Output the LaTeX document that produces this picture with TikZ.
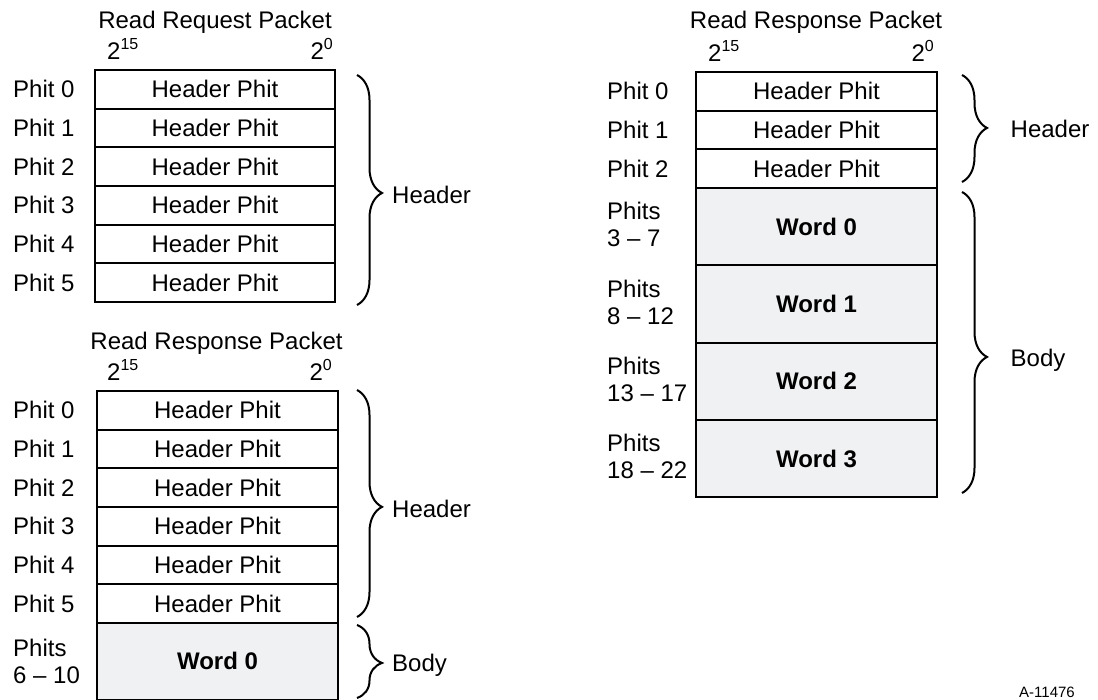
\documentclass[tikz,border=0pt]{standalone}
\usepackage{fontspec}
\setmainfont{Liberation Sans}
\usetikzlibrary{decorations.pathreplacing}
\definecolor{wordfill}{RGB}{240,241,243}
\newcommand\sz{\fontsize{24}{27}\selectfont}
\newcommand\pw[1]{2\raisebox{10pt}{\fontsize{16}{16}\selectfont #1}}
\begin{document}
\begin{tikzpicture}[x=1pt,y=-1pt,
 cell/.style={draw, line width=2pt, inner sep=0pt, text height=17pt, text depth=0pt, font=\sz},
 hcell/.style={cell, minimum height=38.667pt},
 wcell/.style={cell, fill=wordfill, font=\sz\bfseries},
 lbl/.style={anchor=west, inner sep=0pt, text height=17pt, text depth=0pt, font=\sz},
 lbltwo/.style={anchor=west, inner sep=0pt, align=left, font=\sz},
 bits/.style={inner sep=0pt, font=\sz},
 ttl/.style={inner sep=0pt, text height=17pt, text depth=0pt, font=\sz},
 brc/.style={decorate, decoration={brace, amplitude=25pt, aspect=#1}, line width=2pt},
 brc/.default=0.5
]
\useasboundingbox (0,0) rectangle (1098,700);

% ---------- Read Request Packet (top left) ----------
\node[ttl] (t1) at (215,20.5) {Read Request Packet};
\node[bits, anchor=base west] (a15) at (107,60) {\pw{15}};
\node[bits, anchor=base east] (a0) at (333,60) {\pw{0}};
\foreach \i in {0,...,5} {
  \pgfmathsetmacro\cy{70+19.333+38.667*\i}
  \node[hcell, minimum width=240pt] (ra\i) at (215,\cy) {Header Phit};
  \node[lbl] (la\i) at (13,\cy) {Phit \i};
}
\coordinate (ab1) at (357,75);
\coordinate (ab2) at (357,305);
\draw[brc=0.513] (ab1) -- (ab2);
\node[lbl] (ah) at (392,195) {Header};

% ---------- Read Response Packet (bottom left) ----------
\node[ttl] (t2) at (216.5,341.5) {Read Response Packet};
\node[bits, anchor=base west] (b15) at (107,381) {\pw{15}};
\node[bits, anchor=base east] (b0) at (332,381) {\pw{0}};
\foreach \i in {0,...,5} {
  \pgfmathsetmacro\cy{391+19.333+38.667*\i}
  \node[hcell, minimum width=241pt] (rb\i) at (217.5,\cy) {Header Phit};
  \node[lbl] (lb\i) at (13,\cy) {Phit \i};
}
\node[wcell, minimum width=241pt, minimum height=76.5pt] (wb0) at (217.5,661.25) {Word 0};
\node[lbltwo] (lbw0) at (13,661.25) {Phits\\6 \textendash{} 10};
\coordinate (bb1) at (357,390);
\coordinate (bb2) at (357,617);
\draw[brc=0.515] (bb1) -- (bb2);
\node[lbl] (bh) at (392,508.5) {Header};
\coordinate (bb3) at (357,625);
\coordinate (bb4) at (357,698);
\draw[brc=0.52] (bb3) -- (bb4);
\node[lbl] (bbody) at (392,663) {Body};

% ---------- Read Response Packet (right) ----------
\node[ttl] (t3) at (816,20.5) {Read Response Packet};
\node[bits, anchor=base west] (c15) at (708,62) {\pw{15}};
\node[bits, anchor=base east] (c0) at (934,62) {\pw{0}};
\foreach \i in {0,...,2} {
  \pgfmathsetmacro\cy{72+19.333+38.667*\i}
  \node[hcell, minimum width=241pt] (rc\i) at (816.5,\cy) {Header Phit};
  \node[lbl] (lc\i) at (607,\cy) {Phit \i};
}
\foreach \i/\lo/\hi in {0/3/7,1/8/12,2/13/17,3/18/22} {
  \pgfmathsetmacro\cy{188+38.667+77.333*\i}
  \node[wcell, minimum width=241pt, minimum height=77.333pt] (wc\i) at (816.5,\cy) {Word \i};
  \node[lbltwo] (lcw\i) at (607,\cy-2) {Phits\\\lo{} \textendash{} \hi};
}
\coordinate (cb1) at (962,75);
\coordinate (cb2) at (962,182);
\draw[brc=0.495] (cb1) -- (cb2);
\node[lbl] (ch) at (1010.5,129) {Header};
\coordinate (cb3) at (962,192);
\coordinate (cb4) at (962,493);
\draw[brc=0.548] (cb3) -- (cb4);
\node[lbl] (cbody) at (1010.5,358) {Body};

% ---------- figure number ----------
\node[inner sep=0pt, anchor=base west, font=\fontsize{15}{16}\selectfont] (fig) at (1019,697) {A-11476};
\end{tikzpicture}
\end{document}
